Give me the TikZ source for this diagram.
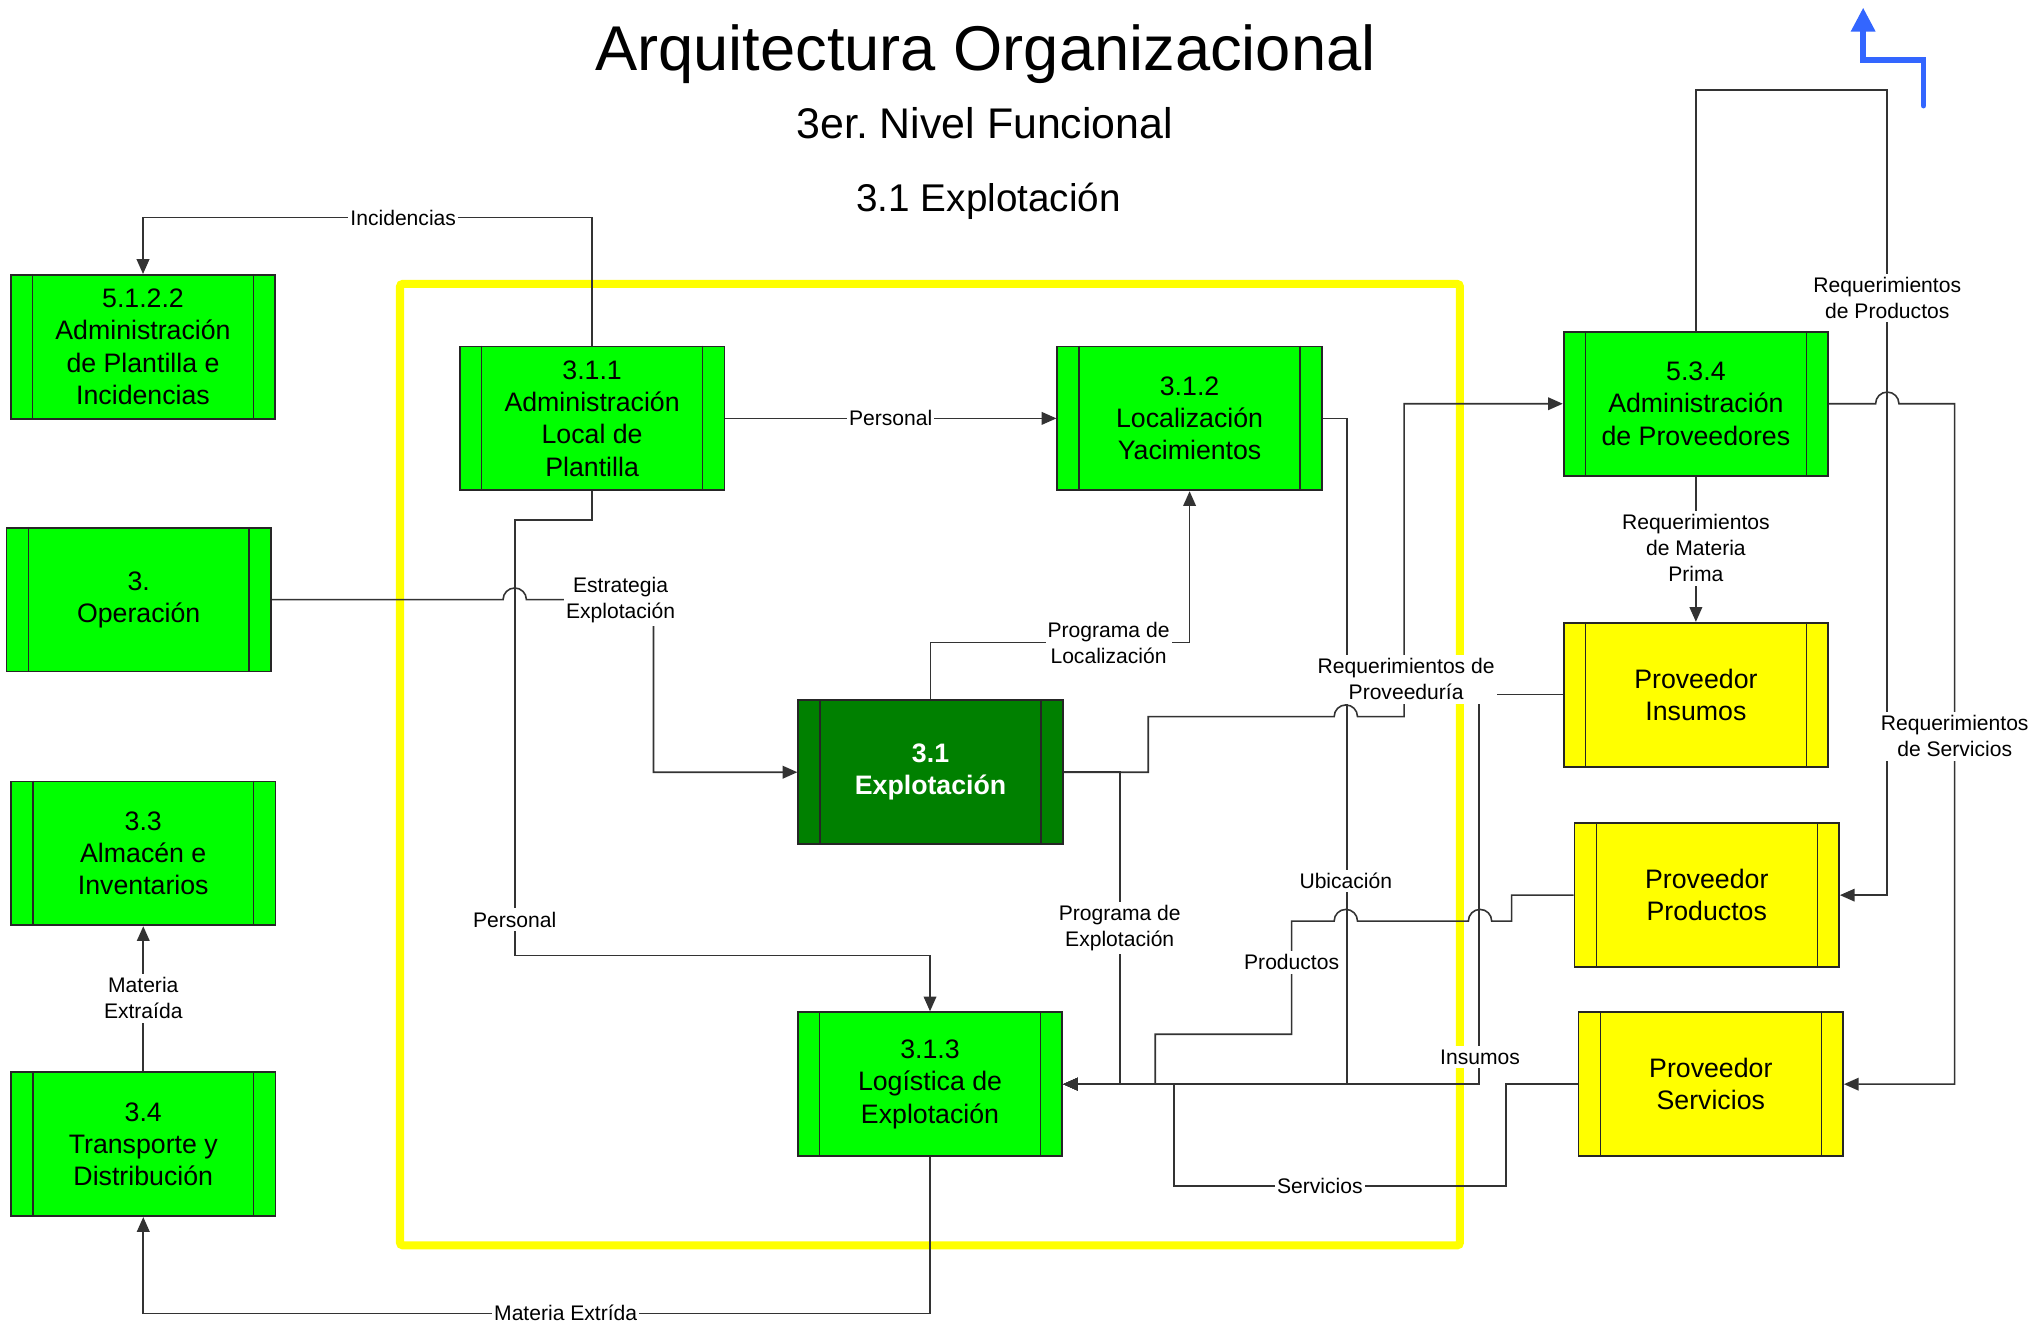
\documentclass[tikz,border=0pt]{standalone}
\usepackage{fontspec}
\setmainfont{Liberation Sans}
\usepackage{tikz}
\usetikzlibrary{arrows.meta}
\frenchspacing

\definecolor{verde}{RGB}{0,255,0}
\definecolor{verdeoscuro}{RGB}{0,128,0}
\definecolor{amarillo}{RGB}{255,255,0}
\definecolor{azul}{RGB}{51,102,255}

\begin{document}
\begin{tikzpicture}[x=0.12966mm, y=0.12966mm,
  proceso/.style={draw=black!85, line width=0.5pt, fill=verde, minimum width=26.45mm,
    minimum height=14.39mm, inner sep=0pt, align=center, font=\fontsize{7.6}{9.2}\selectfont},
  externo/.style={proceso, fill=amarillo},
  principal/.style={proceso, fill=verdeoscuro, text=white, font=\fontsize{7.6}{9.2}\selectfont\bfseries},
  flujo/.style={draw=black!80, line width=0.45pt, -{Triangle[length=4.2pt, width=3.6pt]}},
  etiqueta/.style={fill=white, inner xsep=0.6pt, inner ysep=1pt, align=center,
    font=\fontsize{6}{7.4}\selectfont}]
  \useasboundingbox (0,0) rectangle (1568,1020);

  % Titulos
  \node[anchor=base, font=\fontsize{18}{22}\selectfont] (titulo) at (760,966) {Arquitectura Organizacional};
  \node[anchor=base, font=\fontsize{12.2}{14}\selectfont] (nivel) at (759.5,913.3) {3er. Nivel Funcional};
  \node[anchor=base, font=\fontsize{11}{13}\selectfont] (subtitulo) at (762.5,857) {3.1 Explotación};

  % Marco del proceso
  \draw[amarillo, line width=2.3pt, rounded corners=0.8pt] (308.5,59.5) rectangle (1126,801);

  % Procesos
  \node[proceso] (adminPlantilla) at (110.3,752.5) {5.1.2.2\\Administración\\de Plantilla e\\Incidencias};
  \node[proceso] (operacion) at (107,557.5) {3.\\Operación};
  \node[proceso] (almacen) at (110.5,361.8) {3.3\\Almacén e\\Inventarios};
  \node[proceso] (transporte) at (110.5,137.5) {3.4\\Transporte y\\Distribución};
  \node[proceso] (adminLocal) at (456.7,697.3) {3.1.1\\Administración\\Local de\\Plantilla};
  \node[proceso] (localizacion) at (917.5,697.3) {3.1.2\\Localización\\Yacimientos};
  \node[principal] (explotacion) at (717.7,424.4) {3.1\\Explotación};
  \node[proceso] (logistica) at (717.3,183.8) {3.1.3\\Logística de\\Explotación};
  \node[proceso] (adminProv) at (1308,708.6) {5.3.4\\Administración\\de Proveedores};
  \node[externo] (provInsumos) at (1308,484.2) {Proveedor\\Insumos};
  \node[externo] (provProductos) at (1316.4,329.6) {Proveedor\\Productos};
  \node[externo] (provServicios) at (1319.5,183.8) {Proveedor\\Servicios};

  % Barras laterales
  \foreach \n in {adminPlantilla,operacion,almacen,transporte,adminLocal,localizacion,
                  explotacion,logistica,adminProv,provInsumos,provProductos,provServicios} {
    \draw[black!85] ([xshift=2.27mm]\n.north west) -- ([xshift=2.27mm]\n.south west);
    \draw[black!85] ([xshift=-2.27mm]\n.north east) -- ([xshift=-2.27mm]\n.south east);
  }

  % Flujos
  \draw[flujo] (adminLocal.north) -- ++(0,98.8) -| (adminPlantilla.north);
  \draw[flujo] (adminLocal) -- (localizacion);
  \draw[flujo] (adminLocal.south) -- ++(0,-22.3) -| (397,283) -| (logistica.north);
  \draw[flujo] (operacion.east) -- (388,557.5) arc[start angle=180, end angle=0, radius=9]
    -- (504,557.5) |- (explotacion.west);
  \draw[flujo] (explotacion.north) -- ++(0,43.9) -| (localizacion.south);
  \draw[flujo] (localizacion.east) -- ++(18.5,0) |- (logistica.east);
  \draw[flujo] (explotacion.east) -| (885.6,467.3) -- (1029,467.3)
    arc[start angle=180, end angle=0, radius=9] -- (1083,467.3) |- (adminProv.west);
  \draw[flujo] (explotacion.east) -| (863.6,183.8) -- (logistica.east);
  \draw[flujo] (provInsumos.west) -- ++(-64.5,0) |- (logistica.east);
  \draw[flujo] (provProductos.west) -- ++(-47.8,0) -- ++(0,-20) -- (1150.5,309.6)
    arc[start angle=0, end angle=180, radius=9] -- (1047,309.6)
    arc[start angle=0, end angle=180, radius=9] -- (996.2,309.6) |- (891,222.3) |- (logistica.east);
  \draw[flujo] (provServicios.west) -- ++(-55.5,0) |- (905.4,105.4) |- (logistica.east);
  \draw[flujo] (logistica.south) -- ++(0,-120.7) -| (transporte.south);
  \draw[flujo] (transporte) -- (almacen);
  \draw[flujo] (adminProv) -- (provInsumos);
  \draw[flujo] (adminProv.north) |- (1455.6,950.7) |- (provProductos.east);
  \draw[flujo] (adminProv.east) -- (1446.6,708.6) arc[start angle=180, end angle=0, radius=9]
    -- (1507.6,708.6) |- (provServicios.east);

  % Etiquetas
  \node[etiqueta] (lIncidencias) at (311,851.6) {Incidencias};
  \node[etiqueta] (lPersonal) at (687,697.3) {Personal};
  \node[etiqueta] (lPersonalB) at (397,310.7) {Personal};
  \node[etiqueta] (lEstrategia) at (478.6,557.5) {Estrategia\\Explotación};
  \node[etiqueta] (lLocalizacion) at (855,524) {Programa de\\Localización};
  \node[etiqueta] (lUbicacion) at (1038,340.5) {Ubicación};
  \node[etiqueta] (lProveeduria) at (1084.5,496) {Requerimientos de\\Proveeduría};
  \node[etiqueta] (lInsumos) at (1141.5,204.7) {Insumos};
  \node[etiqueta] (lProductos) at (996.2,277.7) {Productos};
  \node[etiqueta] (lProgExp) at (863.6,304.3) {Programa de\\Explotación};
  \node[etiqueta] (lServicios) at (1018,105.4) {Servicios};
  \node[etiqueta] (lMateriaB) at (436.3,7.6) {Materia Extrída};
  \node[etiqueta] (lMateria) at (110.5,250) {Materia\\Extraída};
  \node[etiqueta] (lPrima) at (1308,597) {Requerimientos\\de Materia\\Prima};
  \node[etiqueta] (lReqProd) at (1455.6,790) {Requerimientos\\de Productos};
  \node[etiqueta] (lReqServ) at (1507.6,452) {Requerimientos\\de Servicios};

  % Flecha azul
  \coordinate (flechaIni) at (1483.5,938.5);
  \coordinate (flechaFin) at (1437,1014.1);
  \draw[azul, line width=1.6pt, line cap=round, -{Triangle[length=6.8pt, width=6.6pt]}]
    (flechaIni) -- ++(0,35.1) -| (flechaFin);
\end{tikzpicture}
\end{document}
